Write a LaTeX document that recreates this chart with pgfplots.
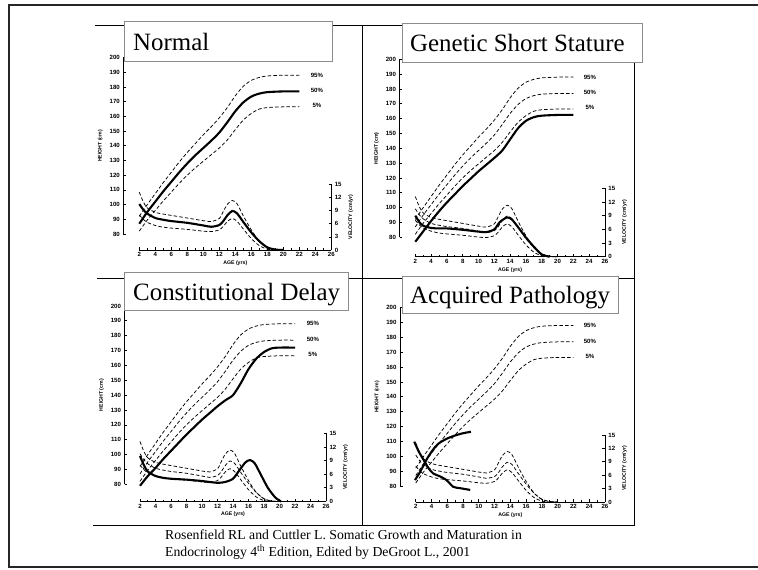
\documentclass[border=0pt]{standalone}
\usepackage{pgfplots}
\pgfplotsset{compat=1.18}
\usepackage{pgfplotstable}
\usepackage{fontspec}
\setmainfont{Liberation Serif}
\newfontfamily\lsans{Liberation Sans}
\newcommand\tk{\lsans\bfseries\fontsize{6.1}{7}\selectfont}
\newcommand\lb{\lsans\bfseries\fontsize{5.2}{6}\selectfont}
\newcommand\ttl{\fontsize{25}{30}\selectfont}

% reference percentiles (height, cm)
\pgfplotstableread{
age h95 h50 h5
2 92 87 82
3 100 95 89.5
4 107.5 102 96
5 115 109 102.5
6 122 115.5 108.5
7 129 122 114.5
8 135.5 128 120
9 141.5 133.5 125
10 147.5 138.5 129.5
11 153 143.5 134
12 159 149 138.5
13 166 156 144
14 174 163.5 151
15 180.5 169.5 157.5
16 184.5 173.5 162
17 186.5 175.5 165
18 187.5 176.5 166
20 188 177 166.5
22 188 177 166.5
}\reft

% reference percentiles (velocity, cm/yr)
\pgfplotstableread{
age v95 v50 v5
2 13.2 10.5 8.0
2.5 11.0 9.2 7.0
3 9.6 8.3 6.3
4 8.6 7.3 5.6
5 8.2 6.9 5.2
6 7.9 6.6 5.0
8 7.3 6.2 4.7
10 6.7 5.6 4.3
11 6.5 5.3 4.2
12 7.2 5.7 4.6
12.5 8.8 6.6 5.4
13 10.4 7.9 6.5
13.6 11.3 8.9 7.2
14.2 10.6 8.4 6.6
15 7.8 6.4 4.8
16 4.6 4.0 2.6
17 2.0 2.0 1.0
18 0.6 0.6 0.2
19 0.1 0.1 0
20 0 0 0
}\refv

\pgfplotsset{
  hax/.style={
    xmin=0, xmax=26, ymin=80, ymax=200,
    axis x line=none, axis y line=left,
    axis line style={-, line width=0.8bp},
    ytick={80,90,...,200},
    tick align=inside, major tick length=2.5bp,
    tick style={line width=0.7bp, black},
    yticklabel style={font=\tk},
    ylabel={HEIGHT (cm)}, ylabel style={font=\lb},
    /pgf/number format/assume math mode=true,
    clip=false, anchor=south west,
  },
  vax/.style={
    xmin=2, xmax=26, ymin=0, ymax=15,
    axis x line=bottom, axis y line=right,
    axis line style={-, line width=0.8bp},
    xtick={2,4,...,26}, minor xtick={3,5,...,25}, ytick={0,3,...,15},
    tick align=inside, major tick length=2.5bp, minor tick length=1.5bp,
    tick style={line width=0.7bp, black},
    ticklabel style={font=\tk},
    xticklabel style={yshift=1bp},
    xlabel={AGE (yrs)}, ylabel={VELOCITY (cm/yr)},
    label style={font=\lb},
    xlabel style={yshift=3bp},
    /pgf/number format/assume math mode=true,
    clip=false, anchor=south west,
  },
  dsh/.style={black, line width=0.75bp, dash pattern=on 3.5bp off 2.2bp, smooth, tension=0.45},
  sld/.style={black, line width=2.1bp, smooth, tension=0.45},
}
\tikzset{pc/.style={font=\tk}, tbox/.style={draw=black!45, line width=0.7bp, fill=white}}

\begin{document}
\begin{tikzpicture}[x=1bp,y=1bp]
\useasboundingbox (0,0) rectangle (758,570);
% anchors of the eight axes
\coordinate (h1) at (123.3,336);  \coordinate (v1) at (139.3,320);
\coordinate (h2) at (399.5,332.7); \coordinate (v2) at (415.3,313.3);
\coordinate (h3) at (124.5,85.7);  \coordinate (v3) at (140,68.5);
\coordinate (h4) at (400,84);      \coordinate (v4) at (415.8,68);
% slide frame
\draw[line width=2bp, black!85] (758,565) -- (8.5,565) -- (8.5,3) -- (758,3);
% figure frame
\draw[line width=1bp] (95,544) -- (634,544) -- (634,44) -- (93,44);
\draw[line width=1bp] (362.7,544) -- (362.7,44);
\draw[line width=1bp] (97,291) -- (634,291);

% ---- Normal
\begin{axis}[hax, x=8bp, y=1.47bp, at={(h1)}]
\addplot[dsh] table[x=age,y=h95]{\reft};
\addplot[sld] table[x=age,y=h50]{\reft};
\addplot[dsh] table[x=age,y=h5]{\reft};
\node[pc] at (axis cs:24.2,188) {95\%};
\node[pc] at (axis cs:24.2,177.5) {50\%};
\node[pc] at (axis cs:24.2,167.5) {5\%};
\end{axis}
\begin{axis}[vax, x=8bp, y=4.38bp, at={(v1)}]
\addplot[dsh] table[x=age,y=v95]{\refv};
\addplot[sld] table[x=age,y=v50]{\refv};
\addplot[dsh] table[x=age,y=v5]{\refv};
\end{axis}

% ---- Genetic Short Stature
\begin{axis}[hax, x=7.9bp, y=1.483bp, at={(h2)}]
\addplot[dsh] table[x=age,y=h95]{\reft};
\addplot[dsh] table[x=age,y=h50]{\reft};
\addplot[dsh] table[x=age,y=h5]{\reft};
\addplot[sld] coordinates {(2,77) (3,84) (4,91) (5,97.5) (6,103.5) (7,109) (8,114.5) (9,119.5) (10,124.5) (11,129) (12,133.5) (13,138.5) (14,146) (15,153.5) (16,158.5) (17,161) (18,162) (20,162.5) (22,162.5)};
\node[pc] at (axis cs:24.1,188) {95\%};
\node[pc] at (axis cs:24.1,177.5) {50\%};
\node[pc] at (axis cs:24.1,167.5) {5\%};
\end{axis}
\begin{axis}[vax, x=7.9bp, y=4.56bp, at={(v2)}]
\addplot[dsh] table[x=age,y=v95]{\refv};
\addplot[dsh] table[x=age,y=v50]{\refv};
\addplot[dsh] table[x=age,y=v5]{\refv};
\addplot[sld] coordinates {(2,9.0) (2.5,7.6) (3,6.8) (4,6.3) (5,6.2) (6,6.2) (8,5.9) (10,5.5) (11,5.4) (12,6.0) (12.7,7.6) (13.6,8.6) (14.2,8.2) (15,6.5) (16,4.2) (17,2.2) (18,0.5) (19,0)};
\end{axis}

% ---- Constitutional Delay
\begin{axis}[hax, x=7.75bp, y=1.486bp, at={(h3)}]
\addplot[dsh] table[x=age,y=h95]{\reft};
\addplot[dsh] table[x=age,y=h50]{\reft};
\addplot[dsh] table[x=age,y=h5]{\reft};
\addplot[sld] coordinates {(2,79) (3,85.5) (4,91) (5,97) (6,102.5) (7,108) (8,113.5) (9,118.5) (10,123.5) (11,128) (12,132.5) (13,136.5) (14,140) (15,148) (16,157.5) (17,164.5) (18,169) (19,171.5) (20,172) (22,172)};
\node[pc] at (axis cs:24.3,188) {95\%};
\node[pc] at (axis cs:24.3,177.5) {50\%};
\node[pc] at (axis cs:24.3,167.5) {5\%};
\end{axis}
\begin{axis}[vax, x=7.75bp, y=4.55bp, at={(v3)}]
\addplot[dsh] table[x=age,y=v95]{\refv};
\addplot[dsh] table[x=age,y=v50]{\refv};
\addplot[dsh] table[x=age,y=v5]{\refv};
\addplot[sld] coordinates {(2,10) (2.5,8) (3,6.6) (4,5.6) (5,5.2) (6,5.0) (8,4.8) (10,4.5) (12,4.1) (13,4.3) (14,5.0) (14.8,6.8) (15.6,8.6) (16.2,9.1) (16.8,8.4) (17.5,6.2) (18.5,3.0) (19.5,0.8) (20.2,0)};
\end{axis}

% ---- Acquired Pathology
\begin{axis}[hax, x=7.88bp, y=1.486bp, at={(h4)}]
\addplot[dsh] table[x=age,y=h95]{\reft};
\addplot[dsh] table[x=age,y=h50]{\reft};
\addplot[dsh] table[x=age,y=h5]{\reft};
\addplot[sld] coordinates {(1.9,84) (2.5,89) (3,94) (3.5,99) (4,103) (4.5,106.5) (5,109) (6,112) (7,114) (8,115.5) (9,116.5)};
\node[pc] at (axis cs:24.1,188) {95\%};
\node[pc] at (axis cs:24.1,177.5) {50\%};
\node[pc] at (axis cs:24.1,167.5) {5\%};
\end{axis}
\begin{axis}[vax, x=7.88bp, y=4.47bp, at={(v4)}]
\addplot[dsh] table[x=age,y=v95]{\refv};
\addplot[dsh] table[x=age,y=v50]{\refv};
\addplot[dsh] table[x=age,y=v5]{\refv};
\addplot[sld] coordinates {(1.8,13.5) (2.4,11.2) (3,9.4) (3.6,7.6) (4.2,6.4) (5.1,5.7) (5.9,4.9) (6.75,3.4) (7.6,3.1) (8.9,2.7)};
\end{axis}

% titles
\draw[tbox] (124,509) rectangle (332,548.3);
\node[anchor=base west, inner sep=0, font=\ttl] at (133,519.3) {Normal};
\draw[tbox] (402,508) rectangle (642,547);
\node[anchor=base west, inner sep=0, font=\ttl] at (410,518.3) {Genetic Short Stature};
\draw[tbox] (124,259.3) rectangle (348,297.3);
\node[anchor=base west, inner sep=0, font=\ttl] at (133,269.3) {Constitutional Delay};
\draw[tbox] (402,256.7) rectangle (618,293.3);
\node[anchor=base west, inner sep=0, font=\ttl] at (410,266.7) {Acquired Pathology};

% source
\node[anchor=base west, inner sep=0, font=\fontsize{13.8}{16}\selectfont] at (165,30) {Rosenfield RL and Cuttler L. Somatic Growth and Maturation in};
\node[anchor=base west, inner sep=0, font=\fontsize{13.8}{16}\selectfont] at (165,13.5) {Endocrinology 4\textsuperscript{th} Edition, Edited by DeGroot L., 2001};
\end{tikzpicture}
\end{document}
